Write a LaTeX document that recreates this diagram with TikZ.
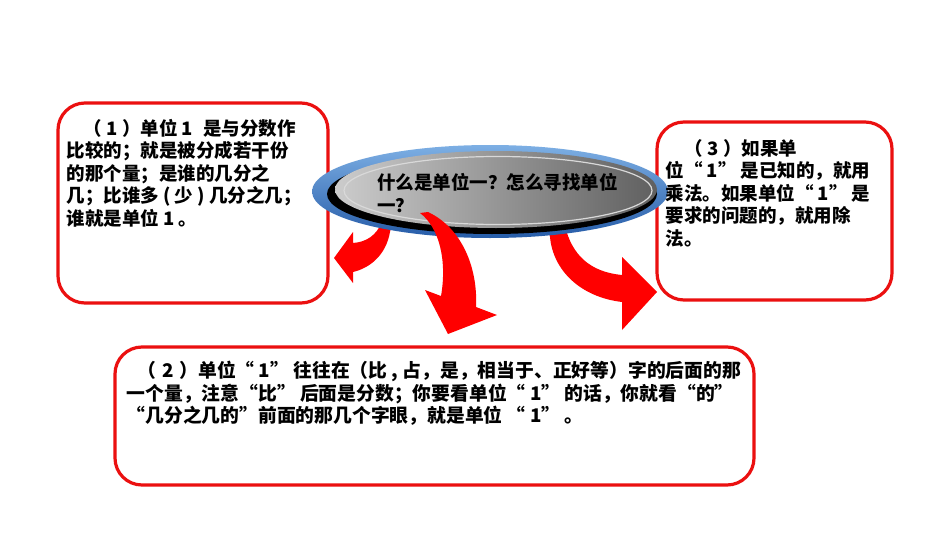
\documentclass[tikz,border=0pt]{standalone}
\usepackage{fontspec}
\setmainfont{Noto Sans CJK SC}
\usetikzlibrary{positioning}
\definecolor{boxred}{RGB}{235,16,16}
\definecolor{arrowred}{RGB}{255,0,0}
\definecolor{ringtop}{RGB}{125,175,228}
\definecolor{ringbot}{RGB}{38,92,168}
\begin{document}
\begin{tikzpicture}[x=1pt, y=-1pt,
		box/.style={draw=boxred, line width=3.2pt, fill=white, rounded corners=27pt},
		txt/.style={font=\bfseries\fontsize{18.5}{22.5}\selectfont, align=left, inner sep=0pt},
		blockarrow/.style={fill=arrowred}]
		\useasboundingbox[fill=white] (0,0) rectangle (950,535);
		\node[box, minimum width=270, minimum height=200] (box1) at (193,203) {};
		\node[box, minimum width=235, minimum height=178] (box3) at (774.5,211) {};
		\node[box, minimum width=639, minimum height=138] (box2) at (434.5,416) {};
		% arrows under the ellipse
		\fill[blockarrow] (392,222) -- (390,232) .. controls (386,255) and (370,268) .. (353,272) -- (353,283) -- (334,258) -- (353,232) -- (353,243) .. controls (366,242) and (376,236) .. (382,222) -- cycle;
		\fill[blockarrow] (548,226) -- (550,237) .. controls (553,270) and (580,297) .. (622,302) -- (622,330) -- (657,292) -- (622,257) -- (622,275) .. controls (590,272) and (572,255) .. (565,226) -- cycle;
		% ellipse
		\coordinate (hub) at (490,191.5);
		\shade[top color=ringtop, bottom color=ringbot] (hub) ellipse [x radius=178, y radius=46.5];
		\fill[black] ([shift={(2,2.5)}]hub) ellipse [x radius=165, y radius=40];
		\shade[left color=gray!40, right color=gray!75!black] ([shift={(6,-2)}]hub) ellipse [x radius=161, y radius=38.5];
		\draw[white!70!gray, line width=1.2pt] ([shift={(8,-1)}]hub) ellipse [x radius=154, y radius=34];
		\fill[blockarrow] (420,213) .. controls (440,228) and (447,262) .. (441,296) -- (425,290) -- (448,334) -- (497,315) -- (476,307) .. controls (478,268) and (462,228) .. (428,212) -- cycle;
		% texts
		\node[txt, anchor=north west] (question) at (377,173.5) {\fontsize{18.5}{20}\selectfont 什么是单位一？怎么寻找单位\\一？};
		\node[txt, below right=17.5pt and 10pt of box1.north west] (note1) {%
			\hspace{0.9em}（\hspace{0.25em}1\hspace{0.25em}）单位 1 \hspace{0.3em}是与分数作\\
			比较的；就是被分成若干份\\
			的那个量；是谁的几分之\\
			几；比谁多 ( 少 ) 几分之几；\\
			谁就是单位 1 。};
		\node[txt, below right=18.5pt and 10pt of box3.north west] (note3) {%
			\hspace{1em}（\hspace{0.25em}3\hspace{0.25em}）如果单\\
			位“ 1” 是已知的，就用\\
			乘法。如果单位“ 1” 是\\
			要求的问题的，就用除\\
			法。};
		\node[txt, font=\bfseries\fontsize{18.8}{22.5}\selectfont, below right=15.5pt and 13pt of box2.north west] (note2) {%
			\hspace{0.6em}（\hspace{0.3em}2\hspace{0.3em}）单位“ 1” 往往在（比 , 占，是，相当于、正好等）字的后面的那\\
			一个量，注意“比” 后面是分数；你要看单位“ 1” 的话，你就看“的”\\
			“几分之几的”前面的那几个字眼，就是单位 “ 1” 。};
	\end{tikzpicture}
\end{document}
